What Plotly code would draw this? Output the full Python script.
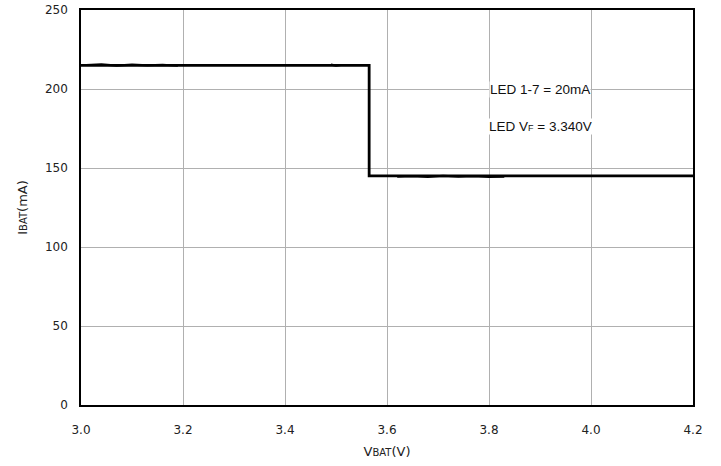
import plotly.graph_objects as go

# Step curve of battery current vs battery voltage
v_bat = [3.0, 3.565, 3.565, 4.2]
i_bat = [215.0, 215.0, 145.0, 145.0]

# Measured (noisy) segments
meas1_v = [3.01, 3.04, 3.07, 3.10, 3.13, 3.16, 3.19]
meas1_i = [215.2, 215.6, 214.8, 215.4, 214.9, 215.3, 214.7]
meas2_v = [3.49, 3.50, 3.51]
meas2_i = [215.4, 214.8, 215.2]
meas3_v = [3.62, 3.65, 3.68, 3.71, 3.74, 3.77, 3.80, 3.83]
meas3_i = [144.6, 144.9, 144.4, 145.0, 144.5, 144.8, 144.3, 144.6]

x_ticks = [3.0, 3.2, 3.4, 3.6, 3.8, 4.0, 4.2]
x_labels = ["3.0", "3.2", "3.4", "3.6", "3.8", "4.0", "4.2"]
y_ticks = [0, 50, 100, 150, 200, 250]

fig = go.Figure()
for vx, iy in [(meas1_v, meas1_i), (meas2_v, meas2_i), (meas3_v, meas3_i)]:
    fig.add_trace(go.Scatter(x=vx, y=iy, mode="lines",
                             line=dict(color="#000", width=2.2), showlegend=False))
fig.add_trace(go.Scatter(x=v_bat, y=i_bat, mode="lines",
                         line=dict(color="#000", width=2.8), showlegend=False))

ann_font = dict(family="Liberation Sans, Arial", size=13.5, color="#111")
fig.add_annotation(x=3.9, y=200, text="LED 1-7 = 20mA", showarrow=False,
                   bgcolor="white", borderpad=0, font=ann_font)
fig.add_annotation(x=3.9, y=176, text='LED V<span style="font-size:9px">F</span> = 3.340V',
                   showarrow=False, bgcolor="white", borderpad=0, font=ann_font)

axis_common = dict(showline=True, linecolor="#000", linewidth=1.5, mirror=True,
                   showgrid=True, gridcolor="#b0b0b0", gridwidth=1, zeroline=False,
                   ticks="outside", tickcolor="rgba(0,0,0,0)", automargin=False,
                   ticklabeloverflow="allow",
                   tickfont=dict(family="DejaVu Sans", size=12, color="#222"))

fig.update_xaxes(range=[3.0, 4.2], tickvals=x_ticks, ticktext=x_labels, ticklen=13,
                 title=dict(text='V<span style="font-size:10px">BAT</span>(V)',
                            font=dict(family="DejaVu Sans", size=13, color="#222"), standoff=11),
                 **axis_common)
fig.update_yaxes(range=[0, 250], tickvals=y_ticks, ticklen=9,
                 title=dict(text='I<span style="font-size:10px">BAT</span>(mA)',
                            font=dict(family="DejaVu Sans", size=13, color="#222"), standoff=14),
                 **axis_common)

fig.update_layout(width=721, height=466, margin=dict(l=81, r=28, t=10, b=61),
                  plot_bgcolor="white", paper_bgcolor="white")

fig.write_html("out.html", config={"displayModeBar": False},
               post_script="document.body.style.margin='0';")
